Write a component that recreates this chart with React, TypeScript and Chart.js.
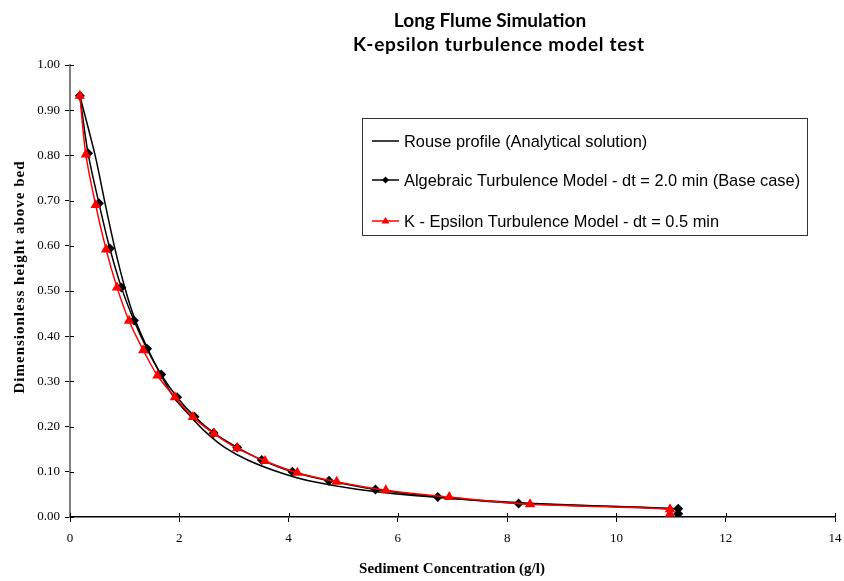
import React, { useEffect, useRef } from "react";
import { Chart, registerables } from "chart.js";

Chart.register(...registerables);

const titleLines = ["Long Flume Simulation", "K-epsilon turbulence model test"];
const xTitle = "Sediment Concentration (g/l)";
const yTitle = "Dimensionless height above bed";
const seriesNames = [
  "Rouse profile (Analytical solution)",
  "Algebraic Turbulence Model - dt = 2.0 min (Base case)",
  "K - Epsilon Turbulence Model - dt = 0.5 min",
];

const rouseC = [0.18, 0.46, 0.64, 0.82, 1.0, 1.18, 1.43, 1.66, 1.9, 2.21, 2.5, 2.83, 3.25, 3.8, 4.37, 5.28, 6.65, 8.5, 11.1];
const rouseZ = [0.932, 0.8, 0.695, 0.595, 0.509, 0.44, 0.37, 0.315, 0.265, 0.222, 0.186, 0.154, 0.126, 0.1, 0.08, 0.061, 0.044, 0.03, 0.018];

const algC = [0.18, 0.33, 0.53, 0.73, 0.94, 1.17, 1.41, 1.67, 1.96, 2.28, 2.63, 3.06, 3.51, 4.07, 4.74, 5.59, 6.73, 8.21, 11.13, 11.13];
const algZ = [0.932, 0.805, 0.694, 0.594, 0.508, 0.435, 0.372, 0.315, 0.265, 0.222, 0.186, 0.154, 0.126, 0.1, 0.08, 0.061, 0.044, 0.03, 0.018, 0.007];

const keC = [0.18, 0.29, 0.47, 0.66, 0.86, 1.08, 1.34, 1.6, 1.92, 2.25, 2.64, 3.06, 3.57, 4.16, 4.88, 5.78, 6.94, 8.42, 10.98, 10.98];
const keZ = [0.932, 0.802, 0.69, 0.592, 0.508, 0.434, 0.369, 0.313, 0.265, 0.221, 0.184, 0.152, 0.124, 0.098, 0.078, 0.059, 0.044, 0.028, 0.017, 0.007];

const toPts = (xs: number[], ys: number[]) => xs.map((x, i) => ({ x, y: ys[i] }));

const decorPlugin = {
  id: "decor",
  afterDraw(chart: any) {
    const ctx = chart.ctx;
    const area = chart.chartArea;
    const xs = chart.scales.x;
    const ys = chart.scales.y;
    ctx.save();
    // inward tick halves
    ctx.strokeStyle = "#000";
    ctx.lineWidth = 1;
    for (let v = 0; v <= 14; v += 2) {
      const px = Math.round(xs.getPixelForValue(v)) + 0.5;
      ctx.beginPath();
      ctx.moveTo(px, area.bottom);
      ctx.lineTo(px, area.bottom - 4);
      ctx.stroke();
    }
    for (let i = 0; i <= 10; i++) {
      const py = Math.round(ys.getPixelForValue(i / 10)) + 0.5;
      ctx.beginPath();
      ctx.moveTo(area.left, py);
      ctx.lineTo(area.left + 4, py);
      ctx.stroke();
    }
    // title
    ctx.fillStyle = "#000";
    ctx.font = "bold 19px Lato";
    ctx.textAlign = "center";
    ctx.textBaseline = "alphabetic";
    ctx.letterSpacing = "0px";
    ctx.fillText(titleLines[0], 490, 27);
    ctx.letterSpacing = "0.7px";
    ctx.fillText(titleLines[1], 499, 51);
    ctx.letterSpacing = "0px";
    // axis titles
    ctx.font = "bold 15px 'Liberation Serif'";
    ctx.textBaseline = "middle";
    ctx.fillText(xTitle, 452, 569);
    ctx.save();
    ctx.translate(20, 277);
    ctx.rotate(-Math.PI / 2);
    ctx.font = "bold 15px 'Liberation Serif'";
    ctx.letterSpacing = "1px";
    ctx.fillText(yTitle, 0, 0);
    ctx.letterSpacing = "0px";
    ctx.restore();
    // legend
    ctx.fillStyle = "#fff";
    ctx.fillRect(362, 118, 445, 117);
    ctx.strokeStyle = "#333";
    ctx.lineWidth = 1;
    ctx.strokeRect(362.5, 118.5, 445, 117);
    const rows = [141, 180, 221];
    const colors = ["#000", "#000", "#ff0000"];
    ctx.font = "16.4px 'Liberation Sans'";
    ctx.textAlign = "left";
    ctx.textBaseline = "middle";
    rows.forEach((ry, i) => {
      ctx.strokeStyle = colors[i];
      ctx.lineWidth = 1.5;
      ctx.beginPath();
      ctx.moveTo(372, ry);
      ctx.lineTo(399, ry);
      ctx.stroke();
      ctx.fillStyle = colors[i];
      if (i === 1) {
        ctx.beginPath();
        ctx.moveTo(385.5, ry - 3.5);
        ctx.lineTo(389, ry);
        ctx.lineTo(385.5, ry + 3.5);
        ctx.lineTo(382, ry);
        ctx.closePath();
        ctx.fill();
      } else if (i === 2) {
        ctx.beginPath();
        ctx.moveTo(385.5, ry - 4);
        ctx.lineTo(389.5, ry + 2.5);
        ctx.lineTo(381.5, ry + 2.5);
        ctx.closePath();
        ctx.fill();
      }
      ctx.fillStyle = "#000";
      ctx.fillText(seriesNames[i], 404, ry + 1);
    });
    ctx.restore();
  },
};

export default function App() {
  const ref = useRef<HTMLCanvasElement | null>(null);
  useEffect(() => {
    if (!ref.current) return;
    const chart = new Chart(ref.current, {
      type: "scatter",
      data: {
        datasets: [
          {
            label: seriesNames[0],
            data: toPts(rouseC, rouseZ),
            showLine: true,
            borderColor: "#000",
            borderWidth: 1.5,
            pointRadius: 0,
            tension: 0.3,
            order: 3,
          },
          {
            label: seriesNames[1],
            data: toPts(algC, algZ),
            showLine: true,
            borderColor: "#000",
            backgroundColor: "#000",
            borderWidth: 1.5,
            pointStyle: "rectRot",
            pointRadius: 5,
            pointBorderWidth: 0,
            tension: 0.3,
            order: 2,
          },
          {
            label: seriesNames[2],
            data: toPts(keC, keZ),
            showLine: true,
            borderColor: "#ff0000",
            backgroundColor: "#ff0000",
            borderWidth: 1.5,
            pointStyle: "triangle",
            pointRadius: 6,
            pointBorderWidth: 0,
            tension: 0.3,
            order: 1,
          },
        ],
      },
      options: {
        animation: false,
        responsive: false,
        layout: { padding: { top: 65, right: 9, left: 0, bottom: 0 } },
        plugins: {
          legend: { display: false },
          title: { display: false },
          tooltip: { enabled: false },
        },
        scales: {
          x: {
            type: "linear",
            min: 0,
            max: 14,
            afterFit: (s: any) => {
              s.height = 64;
              s.paddingRight = 0;
              s.paddingLeft = 0;
            },
            ticks: {
              stepSize: 2,
              color: "#000",
              padding: 9,
              font: { family: "'Liberation Serif'", size: 13 },
            },
            grid: { display: true, drawOnChartArea: false, drawTicks: true, tickLength: 5, color: "#000" },
            border: { display: true, color: "#000", width: 1.5 },
          },
          y: {
            type: "linear",
            min: 0,
            max: 1,
            afterFit: (s: any) => {
              s.width = 70;
            },
            ticks: {
              stepSize: 0.1,
              color: "#000",
              padding: 5,
              font: { family: "'Liberation Serif'", size: 13 },
              callback: (v: any) => Number(v).toFixed(2),
            },
            grid: { display: true, drawOnChartArea: false, drawTicks: true, tickLength: 5, color: "#000" },
            border: { display: true, color: "#808080", width: 2 },
          },
        },
      },
      plugins: [decorPlugin],
    });
    return () => chart.destroy();
  }, []);
  return (
    <div style={{ position: "fixed", left: 0, top: 0, width: 844, height: 581, background: "#fff" }}>
      <canvas ref={ref} width={844} height={581} style={{ width: 844, height: 581 }} />
    </div>
  );
}
